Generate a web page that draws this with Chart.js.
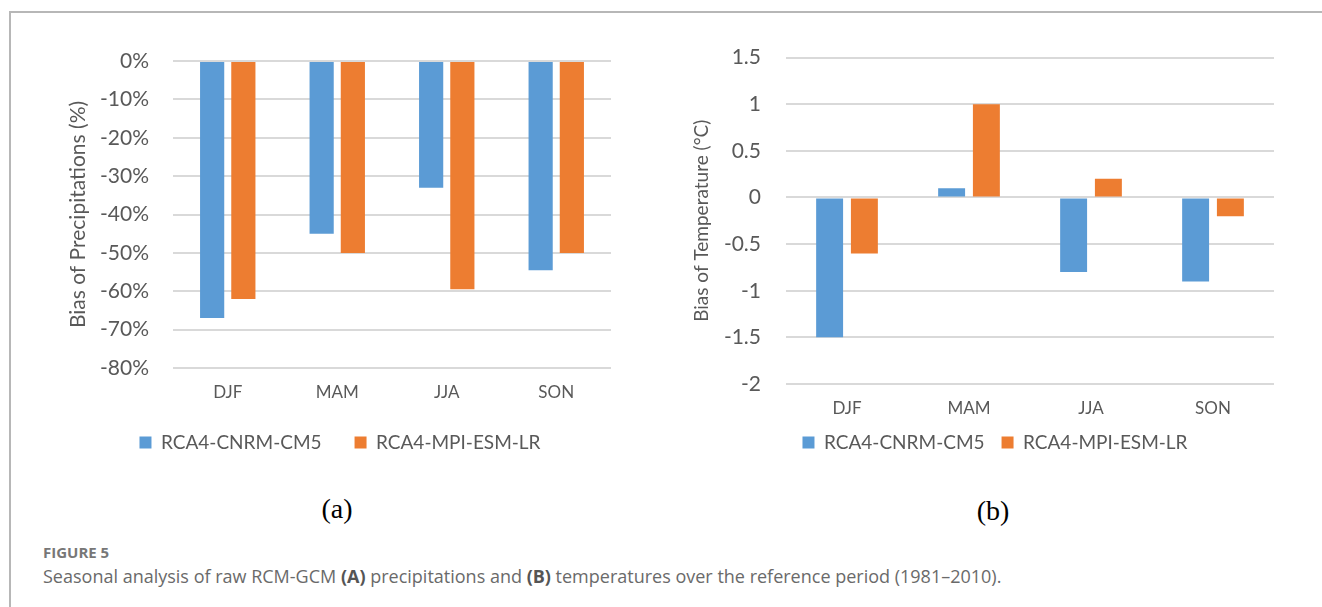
<!DOCTYPE html>
<html>
<head>
<meta charset="utf-8">
<script src="https://cdn.jsdelivr.net/npm/chart.js@4.4.1/dist/chart.umd.min.js"></script>
<style>
  body { margin: 0; background: #fff; width: 1322px; height: 607px; overflow: hidden; position: relative; }
  #frame { position: absolute; left: 9px; top: 11px; width: 1320px; height: 600px;
           border-top: 2px solid #b7b7b7; border-left: 2px solid #b7b7b7; }
  canvas { position: absolute; }
  #chart-prec { left: 40px; top: 20px; }
  #chart-temp { left: 680px; top: 20px; }
  .panel { position: absolute; font-family: "Liberation Serif", serif; font-size: 28px; color: #000;
           transform: translate(-50%, -50%); line-height: 1; }
  #fig-no { position: absolute; left: 43px; top: 542px; font: bold 15px/20px "Open Sans", sans-serif; color: #777; }
  #caption { position: absolute; left: 43px; top: 564px; font: 18px/24px "Open Sans", sans-serif; color: #6a6a6a;
             white-space: nowrap; }
  #caption b { color: #555; }
</style>
</head>
<body>
<div id="frame"></div>
<canvas id="chart-prec" width="600" height="442"></canvas>
<canvas id="chart-temp" width="630" height="442"></canvas>
<div class="panel" style="left:337px; top:509px">(a)</div>
<div class="panel" style="left:993px; top:511px">(b)</div>
<div id="fig-no">FIGURE 5</div>
<div id="caption">Seasonal analysis of raw RCM-GCM <b>(A)</b> precipitations and <b>(B)</b> temperatures over the reference period (1981–2010).</div>
<script>
"use strict";

// ── Data ──────────────────────────────────────────────────────────
const SEASONS    = ["DJF", "MAM", "JJA", "SON"];
const MODELS     = ["RCA4-CNRM-CM5", "RCA4-MPI-ESM-LR"];
const PREC_CNRM  = [-67, -45, -33, -54.5];     // bias of precipitation, %
const PREC_MPI   = [-62, -50, -59.5, -50];
const TEMP_CNRM  = [-1.5, 0.1, -0.8, -0.9];    // bias of temperature, °C
const TEMP_MPI   = [-0.6, 1.0, 0.2, -0.2];

const BLUE   = "#5b9bd5";
const ORANGE = "#ed7d31";
const GRID   = "#d9d9d9";
const TXT    = "#595959";

Chart.defaults.font.family = "Lato, 'Open Sans', sans-serif";
Chart.defaults.color = TXT;

function barDatasets(a, b) {
  return [
    { label: MODELS[0], data: a, backgroundColor: BLUE,   categoryPercentage: 0.57, barPercentage: 0.775 },
    { label: MODELS[1], data: b, backgroundColor: ORANGE, categoryPercentage: 0.57, barPercentage: 0.775 },
  ];
}

function makeChart(id, cfg) {
  return new Chart(document.getElementById(id), {
    type: "bar",
    data: { labels: SEASONS, datasets: barDatasets(cfg.a, cfg.b) },
    options: {
      responsive: false,
      animation: false,
      layout: { padding: cfg.pad },
      plugins: {
        tooltip: { enabled: false },
        legend: {
          position: "bottom",
          labels: { boxWidth: 12, boxHeight: 12, padding: cfg.legPad, color: TXT, font: { size: 19 } }
        }
      },
      scales: {
        x: {
          grid: { display: false, drawTicks: false },
          border: { display: false },
          ticks: { padding: 16, color: TXT, font: { size: 17, lineHeight: 1 } },
          afterFit: s => { s.height = cfg.xH; }
        },
        y: {
          min: cfg.min, max: cfg.max,
          grid: { color: GRID, lineWidth: 2, drawTicks: false },
          border: { display: false },
          ticks: { stepSize: cfg.step, padding: cfg.tickPad, color: TXT, font: { size: cfg.tickSize },
                   callback: cfg.fmt },
          title: { display: true, text: cfg.title, color: TXT,
                   font: { size: cfg.titleSize, lineHeight: cfg.titleLH },
                   padding: { top: cfg.titlePad, bottom: 0 } },
          afterFit: s => { s.width = cfg.yW; }
        }
      }
    }
  });
}

// ── (a) Precipitation ─────────────────────────────────────────────
makeChart("chart-prec", {
  a: PREC_CNRM, b: PREC_MPI,
  min: -80, max: 0, step: 10,
  fmt: v => Math.round(v) + "%",
  title: "Bias of Precipitations (%)", titleSize: 21, titleLH: 0.857, titlePad: 0,
  tickSize: 21, tickPad: 24,
  yW: 104, xH: 32, legPad: 33,
  pad: { left: 29, right: 29, top: 41, bottom: 0 }
});

// ── (b) Temperature ───────────────────────────────────────────────
makeChart("chart-temp", {
  a: TEMP_CNRM, b: TEMP_MPI,
  min: -2, max: 1.5, step: 0.5,
  fmt: v => String(+v.toFixed(1)),
  title: "Bias of Temperature (°C)", titleSize: 19, titleLH: 1.2, titlePad: -25.4,
  tickSize: 21, tickPad: 25,
  yW: 70, xH: 32, legPad: 17,
  pad: { left: 36, right: 36, top: 37, bottom: 0 }
});
</script>
</body>
</html>
